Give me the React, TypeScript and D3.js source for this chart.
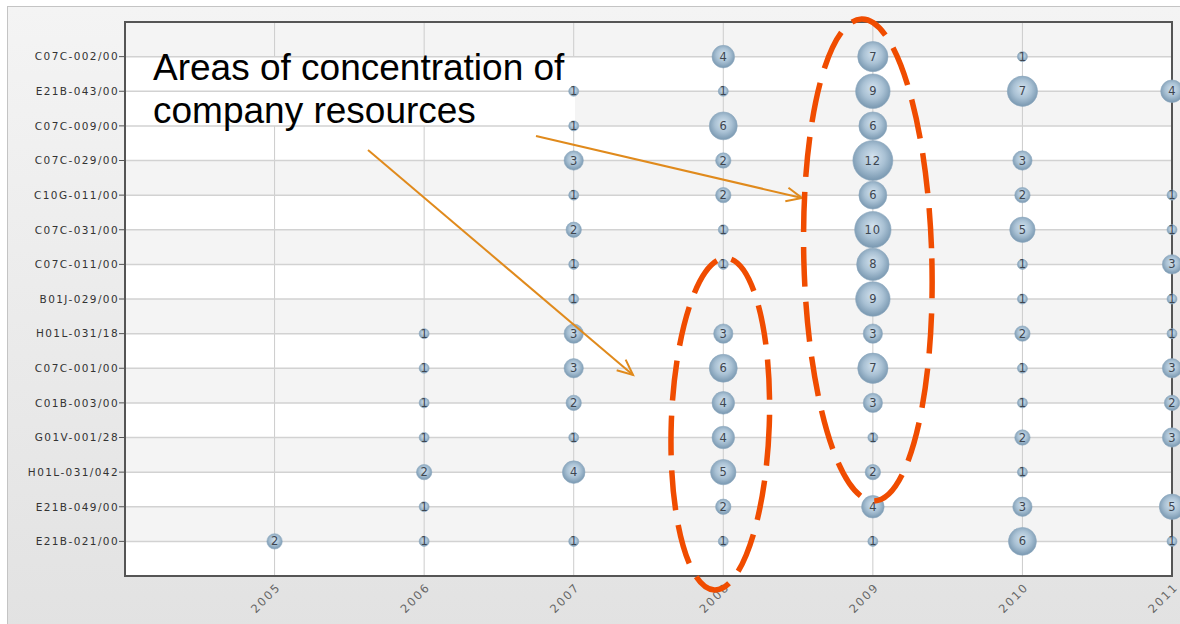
import React from "react";
import * as d3 from "d3";

const categories = [
  "C07C-002/00", "E21B-043/00", "C07C-009/00", "C07C-029/00", "C10G-011/00",
  "C07C-031/00", "C07C-011/00", "B01J-029/00", "H01L-031/18", "C07C-001/00",
  "C01B-003/00", "G01V-001/28", "H01L-031/042", "E21B-049/00", "E21B-021/00",
];
const years = [2005, 2006, 2007, 2008, 2009, 2010, 2011];
// values per year, aligned with categories (0 = no bubble)
const v2005 = [0, 0, 0, 0, 0, 0, 0, 0, 0, 0, 0, 0, 0, 0, 2];
const v2006 = [0, 0, 0, 0, 0, 0, 0, 0, 1, 1, 1, 1, 2, 1, 1];
const v2007 = [0, 1, 1, 3, 1, 2, 1, 1, 3, 3, 2, 1, 4, 0, 1];
const v2008 = [4, 1, 6, 2, 2, 1, 1, 0, 3, 6, 4, 4, 5, 2, 1];
const v2009 = [7, 9, 6, 12, 6, 10, 8, 9, 3, 7, 3, 1, 2, 4, 1];
const v2010 = [1, 7, 0, 3, 2, 5, 1, 1, 2, 1, 1, 2, 1, 3, 6];
const v2011 = [0, 4, 0, 0, 1, 1, 3, 1, 1, 3, 2, 3, 0, 5, 1];
const seriesByYear = [v2005, v2006, v2007, v2008, v2009, v2010, v2011];
const xTicks = [2005, 2006, 2007, 2008, 2009, 2010, 2011];
const noteLines = ["Areas of concentration of", "company resources"];

export default function App() {
  const W = 1180, H = 624;
  const left = 125, right = 1172, top = 22, bottom = 576;
  const x = d3.scaleLinear().domain([2004, 2011]).range([left, right]);
  const y = d3.scalePoint<string>().domain(categories).range([top, bottom]).padding(1);
  const r = d3.scaleRadial().domain([1, 12]).range([5, 20]);
  const step = y.step();

  const bands: { y0: number; y1: number; fill: string }[] = [];
  for (let k = 0; k <= categories.length; k++) {
    const y0 = k === 0 ? top : (y(categories[k - 1]) as number);
    const y1 = k === categories.length ? bottom : (y(categories[k]) as number);
    bands.push({ y0, y1, fill: k % 2 === 0 ? "#f4f4f4" : "#ffffff" });
  }

  const points: { yr: number; cat: string; v: number }[] = [];
  years.forEach((yr, j) => {
    seriesByYear[j].forEach((v, i) => {
      if (v > 0) points.push({ yr, cat: categories[i], v });
    });
  });

  const labelFont = "'DejaVu Sans', Verdana, sans-serif";
  const orange = "#e08a1c";
  const red = "#f04c00";

  const arrow = (x1: number, y1: number, x2: number, y2: number, key: string) => {
    const ang = Math.atan2(y2 - y1, x2 - x1);
    const L = 17, a = 0.42;
    const p1 = [x2 - L * Math.cos(ang - a), y2 - L * Math.sin(ang - a)];
    const p2 = [x2 - L * Math.cos(ang + a), y2 - L * Math.sin(ang + a)];
    return (
      <g key={key} stroke={orange} strokeWidth={2} fill="none">
        <line x1={x1} y1={y1} x2={x2} y2={y2} />
        <polyline points={`${p1[0]},${p1[1]} ${x2},${y2} ${p2[0]},${p2[1]}`} />
      </g>
    );
  };

  return (
    <svg width={W} height={H} style={{ position: "absolute", left: 0, top: 0, display: "block" }}>
      <defs>
        <linearGradient id="panel" x1="0" y1="0" x2="0" y2="1">
          <stop offset="0%" stopColor="#f4f4f4" />
          <stop offset="100%" stopColor="#e2e2e2" />
        </linearGradient>
        <radialGradient id="bub" cx="50%" cy="45%" r="55%" fx="50%" fy="40%">
          <stop offset="0%" stopColor="#d3e2ee" />
          <stop offset="55%" stopColor="#a9c1d4" />
          <stop offset="100%" stopColor="#7897b0" />
        </radialGradient>
      </defs>
      <rect x={0} y={0} width={W} height={H} fill="#ffffff" />
      <rect x={7.5} y={6.5} width={W} height={H} fill="url(#panel)" stroke="#c4c4c4" strokeWidth={1} />

      {/* plot bands */}
      {bands.map((b, i) => (
        <rect key={"b" + i} x={left} y={b.y0} width={right - left} height={b.y1 - b.y0} fill={b.fill} />
      ))}

      {/* vertical grid */}
      {xTicks.map((t) => (
        <line key={"vg" + t} x1={x(t)} x2={x(t)} y1={top} y2={bottom} stroke="#cccccc" strokeWidth={1} />
      ))}

      {/* white box behind note */}
      <rect x={left} y={y(categories[0]) as number} width={575 - left} height={step * 2} fill="#ffffff" />

      {/* horizontal grid */}
      {categories.map((c) => (
        <line key={"hg" + c} x1={left} x2={right} y1={y(c)} y2={y(c)} stroke="#d2d2d2" strokeWidth={1.5} />
      ))}

      {/* y ticks and labels */}
      {categories.map((c) => (
        <g key={"yl" + c}>
          <line x1={left - 6} x2={left} y1={y(c)} y2={y(c)} stroke="#555" strokeWidth={1} />
          <text
            x={left - 6}
            y={(y(c) as number) + 3.8}
            textAnchor="end"
            fontFamily={labelFont}
            fontSize={10.5}
            letterSpacing={1.4}
            fill="#333333"
          >
            {c}
          </text>
        </g>
      ))}

      {/* plot frame */}
      <rect x={left} y={top} width={right - left} height={bottom - top} fill="none" stroke="#555555" strokeWidth={2} />

      {/* x labels */}
      {xTicks.map((t) => (
        <text
          key={"xl" + t}
          transform={`translate(${x(t) + 4},${bottom + 9}) rotate(-45)`}
          textAnchor="end"
          dy="0.35em"
          fontFamily={labelFont}
          fontSize={11.5}
          letterSpacing={1.8}
          fill="#666666"
        >
          {t}
        </text>
      ))}

      {/* bubbles */}
      {points.map((p, i) => {
        const cx = x(p.yr), cy = y(p.cat) as number, rr = r(p.v);
        return (
          <g key={"p" + i}>
            <circle cx={cx} cy={cy} r={rr} fill="url(#bub)" stroke="#8fa9bf" strokeWidth={0.6} />
            <text
              x={cx}
              y={cy + 4}
              textAnchor="middle"
              fontFamily={labelFont}
              fontSize={11.5}
              letterSpacing={p.v >= 10 ? 1 : 0}
              fill="#3d4650"
            >
              {p.v}
            </text>
          </g>
        );
      })}

      {/* note text */}
      <text fontFamily="'Liberation Sans', Arial, sans-serif" fontSize={37} fill="#000">
        <tspan x={153} y={80}>{noteLines[0]}</tspan>
        <tspan x={153} y={123}>{noteLines[1]}</tspan>
      </text>

      {/* arrows */}
      {arrow(536, 136, 802, 198, "a1")}
      {arrow(368, 150, 633, 375, "a2")}

      {/* ellipses */}
      <ellipse
        cx={x(2009) - 5}
        cy={260}
        rx={64}
        ry={241}
        fill="none"
        stroke={red}
        strokeWidth={5.5}
        strokeDasharray="40 15"
        transform={`rotate(-1.5 ${x(2009) - 5} 260)`}
      />
      <ellipse
        cx={x(2008) - 3}
        cy={424}
        rx={49}
        ry={166}
        fill="none"
        stroke={red}
        strokeWidth={5.5}
        strokeDasharray="40 15"
        transform={`rotate(2 ${x(2008) - 3} 424)`}
      />
    </svg>
  );
}
